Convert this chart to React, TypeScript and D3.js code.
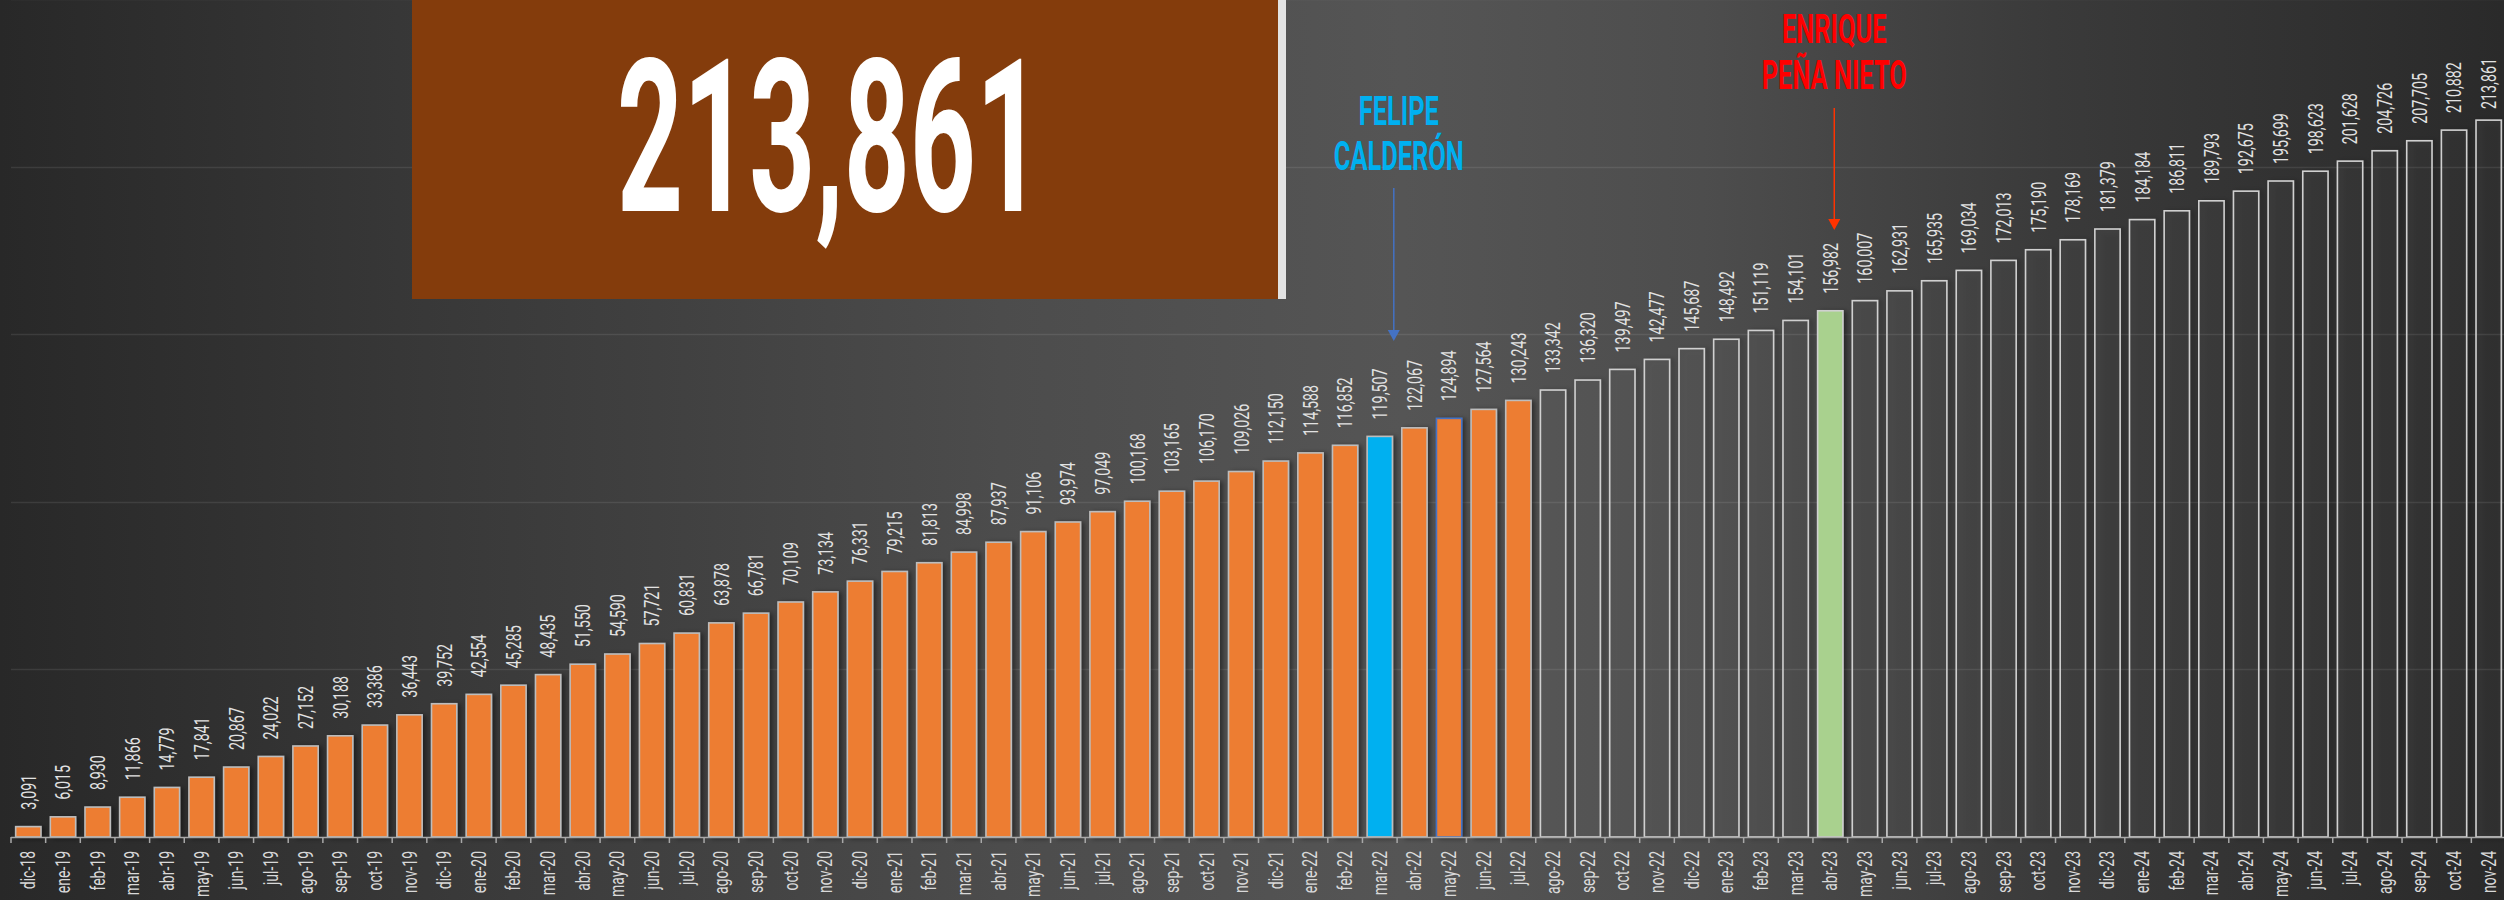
import { useRef, useEffect } from "react";
import * as d3 from "d3";

const W = 2504;
const H = 900;

// months on the x axis
const months = [
  "dic-18",
  "ene-19", "feb-19", "mar-19", "abr-19", "may-19", "jun-19", "jul-19", "ago-19", "sep-19", "oct-19", "nov-19", "dic-19",
  "ene-20", "feb-20", "mar-20", "abr-20", "may-20", "jun-20", "jul-20", "ago-20", "sep-20", "oct-20", "nov-20", "dic-20",
  "ene-21", "feb-21", "mar-21", "abr-21", "may-21", "jun-21", "jul-21", "ago-21", "sep-21", "oct-21", "nov-21", "dic-21",
  "ene-22", "feb-22", "mar-22", "abr-22", "may-22", "jun-22", "jul-22", "ago-22", "sep-22", "oct-22", "nov-22", "dic-22",
  "ene-23", "feb-23", "mar-23", "abr-23", "may-23", "jun-23", "jul-23", "ago-23", "sep-23", "oct-23", "nov-23", "dic-23",
  "ene-24", "feb-24", "mar-24", "abr-24", "may-24", "jun-24", "jul-24", "ago-24", "sep-24", "oct-24", "nov-24",
];

// accumulated totals per month
const totals = [
  3091,
  6015, 8930, 11866, 14779, 17841, 20867, 24022, 27152, 30188, 33386, 36443, 39752,
  42554, 45285, 48435, 51550, 54590, 57721, 60831, 63878, 66781, 70109, 73134, 76331,
  79215, 81813, 84998, 87937, 91106, 93974, 97049, 100168, 103165, 106170, 109026, 112150,
  114588, 116852, 119507, 122067, 124894, 127564, 130243, 133342, 136320, 139497, 142477, 145687,
  148492, 151119, 154101, 156982, 160007, 162931, 165935, 169034, 172013, 175190, 178169, 181379,
  184184, 186811, 189793, 192675, 195699, 198623, 201628, 204726, 207705, 210882, 213861,
];

const gridTicks = [50000, 100000, 150000, 200000, 250000];

const calderonMonth = "mar-22";
const penaMonth = "abr-23";
const firstOpenMonth = "ago-22";
const outlinedMonth = "may-22";

const calderonLines = ["FELIPE", "CALDERÓN"];
const penaLines = ["ENRIQUE", "PEÑA NIETO"];

const FONT = "Roboto, 'Liberation Sans', sans-serif";

function drawChart(svgEl: SVGSVGElement) {
  const svg = d3.select(svgEl);
  svg.selectAll("*").remove();

  const defs = svg.append("defs");
  const bg = defs.append("linearGradient").attr("id", "bg").attr("x1", 0).attr("x2", 1).attr("y1", 0).attr("y2", 0);
  [
    [0, "#282828"], [0.17, "#383838"], [0.4, "#4c4c4c"], [0.56, "#555555"],
    [0.68, "#4d4d4d"], [0.82, "#3a3a3a"], [1, "#2a2a2a"],
  ].forEach(([o, c]) => bg.append("stop").attr("offset", o as number).attr("stop-color", c as string));

  const sh = defs.append("filter").attr("id", "shadow").attr("x", "-20%").attr("y", "-5%").attr("width", "160%").attr("height", "110%");
  sh.append("feDropShadow").attr("dx", 3).attr("dy", 1).attr("stdDeviation", 2.5)
    .attr("flood-color", "#000").attr("flood-opacity", 0.45);

  svg.append("rect").attr("width", W).attr("height", H).attr("fill", "url(#bg)");

  const x = d3.scaleBand<string>().domain(months).range([11, 2506]).paddingInner(0.27).paddingOuter(0.135);
  const y = d3.scaleLinear().domain([0, 250000]).range([837, -1]);
  const bw = x.bandwidth();
  const cx = (m: string) => (x(m) as number) + bw / 2;

  // gridlines
  svg.append("g").selectAll("line").data(gridTicks).join("line")
    .attr("x1", 11).attr("x2", W)
    .attr("y1", (d) => Math.round(y(d)) + 0.5).attr("y2", (d) => Math.round(y(d)) + 0.5)
    .attr("stroke", "#ffffff").attr("stroke-opacity", 0.09).attr("stroke-width", 1.5);

  // title box with the latest total
  svg.append("rect").attr("x", 412).attr("y", 0).attr("width", 866).attr("height", 299).attr("fill", "#843C0C");
  svg.append("rect").attr("x", 1278).attr("y", 0).attr("width", 8).attr("height", 299).attr("fill", "#e3e3e3");
  const big = svg.append("text")
    .attr("font-family", FONT).attr("font-weight", 700).attr("font-size", 214)
    .attr("fill", "#ffffff")
    .text(d3.format(",")(totals[totals.length - 1]));
  const bigLen = (big.node() as SVGTextElement).getComputedTextLength();
  big.attr("transform", `translate(617,211) scale(${425 / bigLen},1)`);

  // bars
  const openFrom = months.indexOf(firstOpenMonth);
  const data = months.map((m, i) => ({ m, v: totals[i], i }));
  svg.append("g").attr("filter", "url(#shadow)")
    .selectAll("rect").data(data).join("rect")
    .attr("x", (d) => x(d.m) as number)
    .attr("y", (d) => y(d.v))
    .attr("width", bw)
    .attr("height", (d) => y(0) - y(d.v))
    .attr("fill", (d) =>
      d.m === calderonMonth ? "#00B0F0" : d.m === penaMonth ? "#A9D18E" : d.i >= openFrom ? "rgba(255,255,255,0.02)" : "#ED7D31")
    .attr("stroke", (d) => (d.m === outlinedMonth ? "#4472C4" : d.i >= openFrom ? "#d0d0d0" : "#bdbdbd"))
    .attr("stroke-width", 1.6);

  // value labels
  const fmt = d3.format(",");
  const vSx = 0.68;
  const vl = svg.append("g").attr("font-family", FONT).attr("font-size", 21).attr("fill", "#e2e2e2");
  data.forEach((d) => {
    const t = vl.append("text").attr("text-anchor", "start").attr("dy", "0.35em").text(fmt(d.v));
    const len = (t.node() as SVGTextElement).getComputedTextLength() * vSx;
    const yy = Math.max(y(d.v) - 17, 58 + len);
    t.attr("transform", `translate(${cx(d.m)},${yy}) rotate(-90) scale(${vSx},1)`);
  });

  // axis line + ticks at band boundaries
  const axis = svg.append("g").attr("stroke", "#a8a8a8").attr("stroke-width", 1.5);
  axis.append("line").attr("x1", 11).attr("x2", W).attr("y1", 837.5).attr("y2", 837.5);
  const bounds = months.map((m) => (x(m) as number) - (x.step() - bw) / 2).concat([x.range()[1]]);
  axis.selectAll("line.tick").data(bounds).join("line").attr("class", "tick")
    .attr("x1", (d) => d).attr("x2", (d) => d).attr("y1", 837).attr("y2", 843);

  // month labels
  svg.append("g").attr("font-family", FONT).attr("font-size", 20).attr("fill", "#d9d9d9")
    .selectAll("text").data(months).join("text")
    .attr("text-anchor", "end").attr("dy", "0.35em")
    .attr("transform", (m) => `translate(${cx(m)},851) rotate(-90) scale(0.7,1)`)
    .text((m) => m);

  // annotations
  const note = (lines: string[], xc: number, ys: number[], color: string) => {
    lines.forEach((s, i) => {
      svg.append("text")
        .attr("transform", `translate(${xc},${ys[i]}) scale(0.62,1)`)
        .attr("text-anchor", "middle")
        .attr("font-family", FONT).attr("font-weight", 700).attr("font-size", 41)
        .attr("fill", color).text(s);
    });
  };
  const arrow = (xa: number, y0: number, y1: number, color: string) => {
    svg.append("line").attr("x1", xa).attr("x2", xa).attr("y1", y0).attr("y2", y1 - 9)
      .attr("stroke", color).attr("stroke-width", 1.5);
    svg.append("path").attr("d", `M${xa - 6},${y1 - 11}L${xa + 6},${y1 - 11}L${xa},${y1}Z`).attr("fill", color);
  };

  const xCal = cx(calderonMonth) + 14;
  note(calderonLines, xCal + 5, [125, 170], "#00B0F0");
  arrow(xCal, 188, 341, "#4472C4");

  const xPena = cx(penaMonth) + 4;
  note(penaLines, xPena, [43, 89], "#FF0000");
  arrow(xPena, 108, 230, "#FF3300");
}

export default function App() {
  const ref = useRef<SVGSVGElement>(null);

  useEffect(() => {
    if (ref.current) drawChart(ref.current);
  }, []);

  return (
    <svg
      ref={ref}
      width={W}
      height={H}
      style={{ position: "absolute", left: 0, top: 0, display: "block" }}
    />
  );
}
